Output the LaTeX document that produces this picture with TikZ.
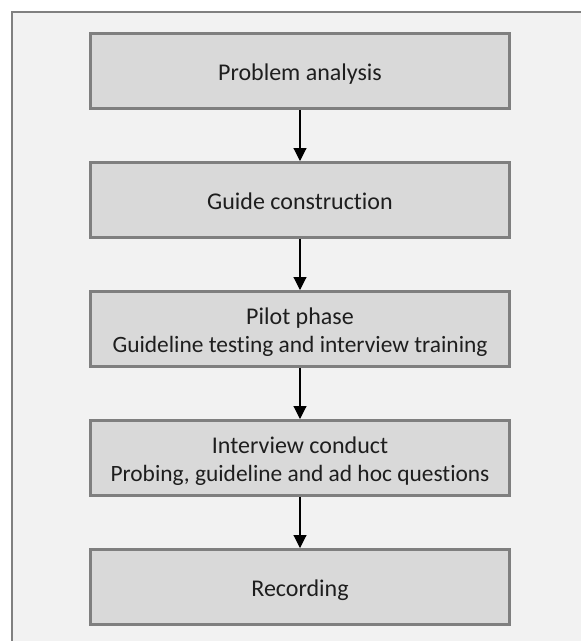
\documentclass[tikz,border=0pt]{standalone}
\usepackage{fontspec}
\setmainfont{Carlito}[Ligatures=NoCommon]
\usetikzlibrary{arrows.meta}
\definecolor{panelfill}{HTML}{F2F2F2}
\definecolor{panelline}{HTML}{808080}
\definecolor{boxfill}{HTML}{D9D9D9}
\definecolor{boxline}{HTML}{7F7F7F}
\definecolor{textcol}{HTML}{1E1E1E}
\newcommand{\subline}[1]{{\fontsize{23.4}{28}\selectfont #1}}
\begin{document}
\begin{tikzpicture}[x=1pt,y=1pt,
  stage/.style={draw=boxline, fill=boxfill, line width=3pt,
    minimum width=419pt, minimum height=75pt, inner sep=0pt,
    text height=23pt, text depth=5pt,
    align=center, text=textcol, font=\fontsize{24}{28}\selectfont},
  twoline/.style={text height=51pt, text depth=5pt},
  flow/.style={line width=1.1pt, draw=black,
    -{Triangle[width=13pt,length=13pt]}}]
  % page area
  \useasboundingbox (0,0) rectangle (581,-641);
  \clip (0,0) rectangle (581,-641);
  % outer panel (runs past the right and bottom edges)
  \draw[panelline, fill=panelfill, line width=2pt] (12,-12) rectangle (620,-680);
  % process stages
  \node[stage] (s1) at (300,-71)  {Problem analysis};
  \node[stage] (s2) at (300,-200) {Guide construction};
  \node[stage, twoline] (s3) at (300,-329) {Pilot phase\\\subline{Guideline testing and interview training}};
  \node[stage, twoline] (s4) at (300,-458) {Interview conduct\\\subline{Probing, guideline and ad hoc questions}};
  \node[stage] (s5) at (300,-587) {Recording};
  % connectors
  \draw[flow] (s1.south) -- (s2.north);
  \draw[flow] (s2.south) -- (s3.north);
  \draw[flow] (s3.south) -- (s4.north);
  \draw[flow] (s4.south) -- (s5.north);
\end{tikzpicture}
\end{document}
